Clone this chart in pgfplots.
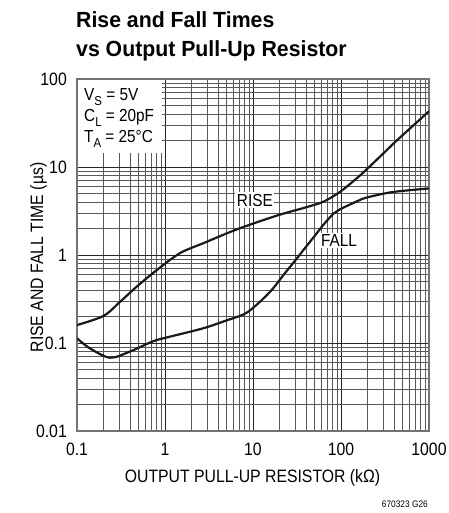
\documentclass[border=0pt]{standalone}
\usepackage{pgfplots}
\pgfplotsset{compat=1.18}
\usepackage{fontspec}
\setmainfont{Liberation Sans}[FakeStretch=0.88]
\newfontfamily\titlefont{Liberation Sans}[FakeStretch=0.97]
\begin{document}
\begin{tikzpicture}[x=1bp,y=1bp]
\useasboundingbox (0,0) rectangle (449,513);
\node[anchor=base west, font=\titlefont\fontsize{22}{24}\selectfont\bfseries, inner sep=0] at (76,485.5) {Rise and Fall Times};
\node[anchor=base west, font=\titlefont\fontsize{22}{24}\selectfont\bfseries, inner sep=0] at (76,456.5) {vs Output Pull-Up Resistor};
\begin{axis}[
  at={(77bp,82bp)}, anchor=south west,
  scale only axis, width=352bp, height=352bp,
  xmode=log, ymode=log,
  xmin=0.1, xmax=1000, ymin=0.01, ymax=100,
  xtick={0.1,1,10,100,1000}, xticklabels={0.1,1,10,100,1000},
  ytick={0.01,0.1,1,10,100}, yticklabels={0.01,0.1,1,10,100},
  /pgf/number format/assume math mode=true,
  ticklabel style={font=\fontsize{18}{20}\selectfont},
  xticklabel style={anchor=north, inner sep=0pt, yshift=-11.5bp},
  yticklabel style={anchor=east, inner sep=0pt, xshift=-10bp},
  major tick length=0pt, minor tick length=0pt,
  grid=both,
  major grid style={black!85, line width=0.7bp},
  minor grid style={black!65, line width=0.6bp},
  axis line style={black!55, line width=1.2bp},
]
\addplot[black!90, line width=2.2bp, smooth, tension=0.5] coordinates {
(0.1,0.16) (0.2,0.203) (0.31,0.295) (0.476,0.436) (0.8,0.67) (1.48,1.05) (2.72,1.36) (6.5,1.95) (17,2.72) (26.3,3.1) (40.7,3.5) (63,4.03) (97,5.2) (150,7.4) (200,9.6) (330,15.5) (430,20) (1000,43)
};
\addplot[black!90, line width=2.2bp, smooth, tension=0.5] coordinates {
(0.1,0.113) (0.14,0.087) (0.237,0.068) (0.4,0.080) (0.74,0.105) (1.14,0.118) (2.72,0.147) (4.8,0.178) (8.1,0.215) (11.5,0.283) (16.3,0.40) (23,0.62) (30,0.86) (39,1.2) (51,1.68) (63,2.2) (82,2.95) (97,3.3) (150,4.05) (196,4.5) (390,5.2) (1000,5.7)
};
\node[fill=white, inner sep=1.5bp, font=\fontsize{17.5}{20}\selectfont] at (axis cs:10.5,4.2) {RISE};
\node[fill=white, inner sep=1.5bp, font=\fontsize{17.5}{20}\selectfont] at (axis cs:95,1.45) {FALL};
\end{axis}
\fill[white] (77.8,359.5) rectangle (161.7,433.2);
\node[anchor=base west, inner sep=0, font=\fontsize{17.5}{19}\selectfont] at (84,412.3) {V\raisebox{-0.25em}{\fontsize{13}{13}\selectfont S} = 5V};
\node[anchor=base west, inner sep=0, font=\fontsize{17.5}{19}\selectfont] at (84,391.3) {C\raisebox{-0.25em}{\fontsize{13}{13}\selectfont L} = 20pF};
\node[anchor=base west, inner sep=0, font=\fontsize{17.5}{19}\selectfont] at (84,370.3) {T\raisebox{-0.25em}{\fontsize{13}{13}\selectfont A} = 25°C};
\node[anchor=base, inner sep=0, font=\fontsize{18}{20}\selectfont] at (252.5,30.3) {OUTPUT PULL-UP RESISTOR (kΩ)};
\node[anchor=base, rotate=90, inner sep=0, font=\fontsize{18}{20}\selectfont] at (43,255.5) {RISE AND FALL TIME (µs)};
\node[anchor=base east, inner sep=0, font=\fontsize{9.5}{10}\selectfont] at (428,5) {670323 G26};
\end{tikzpicture}
\end{document}
